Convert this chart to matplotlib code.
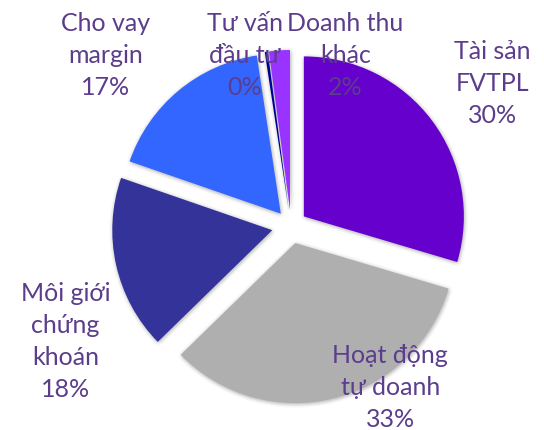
import numpy as np
import matplotlib.pyplot as plt
from matplotlib.patches import Wedge

labels = ["Tài sản\nFVTPL", "Hoạt động\ntự doanh", "Môi giới\nchứng\nkhoán",
          "Cho vay\nmargin", "Tư vấn\nđầu tư", "Doanh thu\nkhác"]
values = [29.6, 33.1, 17.6, 17.3, 0.3, 2.1]
colors = ["#6600CC", "#AFAFAF", "#333399", "#3366FF", "#000099", "#9933FF"]
explode = [0.1, 0.11, 0.12, 0.1, 0.1, 0.1]

# label anchor points, in pie radius units
label_pos = [(1.26, 0.89), (0.62, -1.01), (-1.41, -0.72),
             (-1.16, 1.065), (-0.29, 1.065), (0.34, 1.065)]

text_color = "#5C3D8C"

fig = plt.figure(figsize=(5.44, 4.30), dpi=100, facecolor="white")
ax = fig.add_axes([0, 0, 1, 1])

wedges, _ = ax.pie(values, colors=colors, explode=explode, startangle=90,
                   counterclock=False, radius=1.0,
                   wedgeprops=dict(linewidth=0, zorder=3))

# soft grey shadow behind each slice
for w in wedges:
    cx, cy = w.center
    for d in (0.008, 0.016, 0.024):
        for a in np.linspace(0, 2 * np.pi, 10, endpoint=False):
            ax.add_patch(Wedge((cx + d * np.cos(a) + 0.004, cy + d * np.sin(a) - 0.006),
                               w.r, w.theta1, w.theta2, facecolor="#808080",
                               edgecolor="none", alpha=0.025, zorder=2))

total = sum(values)
for lab, v, (x, y) in zip(labels, values, label_pos):
    ax.text(x, y, f"{lab}\n{v / total * 100:.0f}%", ha="center", va="center",
            fontsize=18, color=text_color, family="Lato", linespacing=1.47,
            zorder=4)

ax.set_xlim(-1.819, 1.581)
ax.set_ylim(-1.275, 1.4125)
ax.set_aspect("auto")
ax.axis("off")

fig.savefig("out.png", dpi=100, facecolor="white")
